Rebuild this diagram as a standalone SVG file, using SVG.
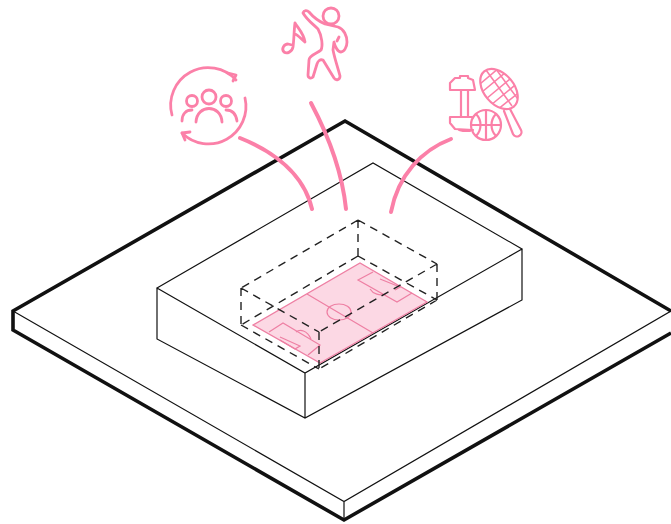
<svg xmlns="http://www.w3.org/2000/svg" width="671" height="524" viewBox="0 0 671 524">
<defs>
<clipPath id="head"><ellipse cx="499" cy="89" rx="15" ry="23" transform="rotate(-40 499 89)"/></clipPath>
</defs>
<style>
.k{fill:none;stroke:#111;stroke-linejoin:miter}
.thin{stroke-width:1.2}
.thick{stroke-width:3.6}
.dash{fill:none;stroke:#222;stroke-width:1.4;stroke-dasharray:8 6}
.fl{fill:none;stroke:#ee7fa3;stroke-width:1.2}
.p{fill:none;stroke:#fb80a8;stroke-width:2.8;stroke-linecap:round;stroke-linejoin:round}
.s{stroke-width:2.200}
.c{fill:none;stroke:#fb80a8;stroke-width:4;stroke-linecap:round}
</style>
<rect width="671" height="524" fill="#fff"/>
<g id="slab">
<path class="k thin" d="M13 311L344 501.5L671 311M344 501.5V520"/>
<path class="k thick" d="M671 311L345 121L13 311V330L344 520L671 333"/>
</g>
<g id="building">
<path class="k thin" d="M157 288L373 163L522 249L305 373ZM157 288V339L305 418L522 300V249M305 373V418" fill="#fff"/>
</g>
<g id="pitch">
<path d="M253 325L360 263L427 302L320 363Z" fill="#fcd8e4" stroke="#ee7fa3" stroke-width="1.3"/>
<path class="fl" d="M307 294L373 333M269 332L283 323L320 345L308 355M280 337L300 346L295 349L280 340M373 272L358 280L397 302L412 293M380 279L400 287L395 290"/>
<ellipse class="fl" cx="339" cy="312" rx="12" ry="8"/>
<path class="fl" d="M296 332C300 329 307 330 311 339M370 289C373 294 380 296 386 294"/>
</g>
<g id="dashed-volume">
<path class="dash" d="M358 220L241 288M358 220L437 264M241 288L319 332M437 264L319 332M358 256L241 325M358 256L437 300M241 325L319 369M437 300L319 369M358 220V256M241 288V325M437 264V300M319 332V369"/>
</g>
<g id="connectors">
<path class="c" d="M240 138C275 152 304 175 312 209"/>
<path class="c" d="M311 103C328 135 342 170 346 209"/>
<path class="c" d="M451 139C422 150 398 175 391 212"/>
</g>
<g id="icon-community">
<path class="p" d="M172 115A37.500 37.500 0 0 1 236 80M245 98A37.500 37.500 0 0 1 182 133"/>
<path class="p" d="M228 73L236 75L233 81M190 132L182 133L185 140"/>
<circle class="p" cx="192" cy="101" r="5.500"/><circle class="p" cx="209" cy="97" r="7"/><circle class="p" cx="226" cy="101" r="5.500"/>
<path class="p" d="M196 122C197 104 221 104 222 122M182 121C182 114 186 110 192 110M237 121C236 114 232 110 226 110"/>
</g>
<g id="icon-dance">
<circle class="p" cx="331" cy="16" r="8"/>
<path class="p" d="M303 13C304 10 307 10 309 12C314 18 318 21 325 24L338 27C344 29 347 36 347 42C347 47 344 52 341 52C338 52 335 47 334 42L333 50C335 60 338 68 340 76C340 80 336 81 334 78L323 60C320 59 318 61 317 64L313 77C311 79 308 78 308 75L309 60C309 55 318 53 321 50C323 46 322 36 318 29C313 24 307 20 303 13Z"/>
<path class="p" d="M337 41L339 37M295 23C294 30 294 40 293 47C292 52 287 54 284 52C281 49 284 44 288 44L292 45M295 23C298 28 304 34 305 42C302 40 298 35 295 34"/>
</g>
<g id="icon-sports">
<path class="p s" d="M450 90V83L455 78H460V76H468V78L473 80L475 90ZM461 90V117M468 90V117M472 117H450V123L455 129L473 130M459 130L463 131H470"/>
<circle class="p s" cx="486" cy="125" r="15"/>
<path class="p s" d="M471 125H501M486 110V140M476 114C482 120 482 130 476 136M496 114C490 120 490 130 496 136"/>
<ellipse class="p s" cx="499" cy="89" rx="15" ry="23" transform="rotate(-40 499 89)"/>
<path class="p s" d="M510 109L521 130A4 4 0 0 1 513 134L504 111"/>
<g clip-path="url(#head)" fill="none" stroke="#fb80a8" stroke-width="1.600">
<path d="M480 84L506 62M482 92L512 67M486 99L516 74M491 105L520 81M497 110L522 90M486 70L512 106M493 65L520 102M500 62L525 96"/>
</g>
</g>
</svg>
